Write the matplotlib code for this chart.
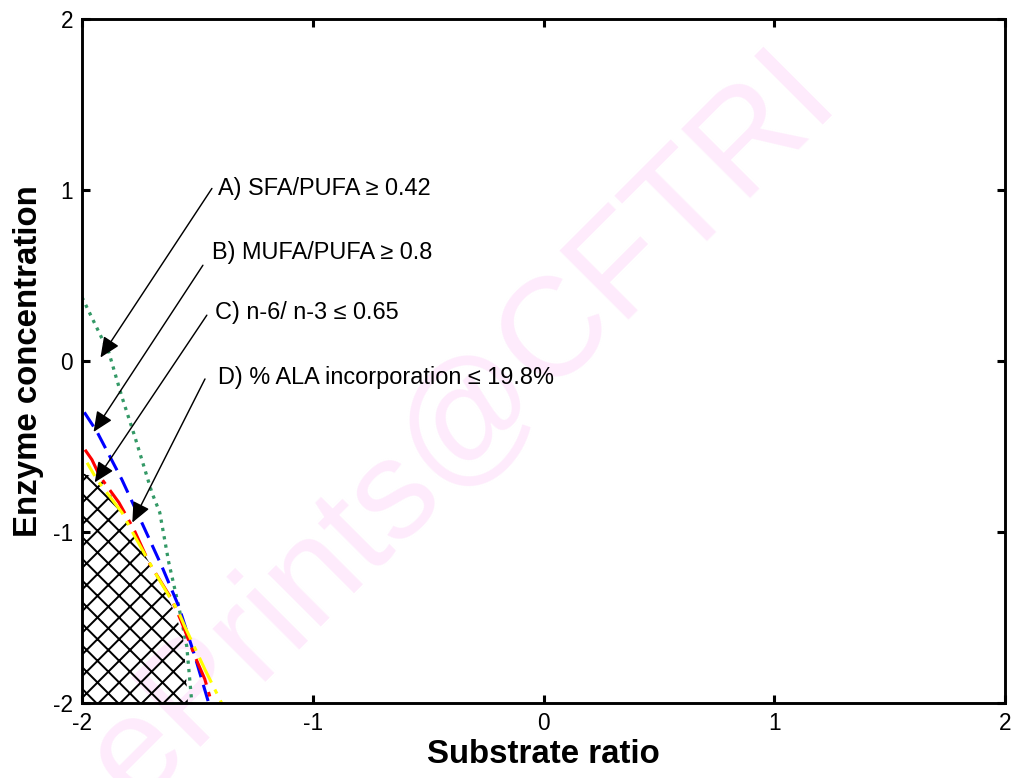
import matplotlib
matplotlib.use('Agg')
import matplotlib.pyplot as plt

plt.rcParams['font.family'] = ['Liberation Sans', 'DejaVu Sans']
plt.rcParams['hatch.linewidth'] = 1.1
plt.rcParams['axes.unicode_minus'] = False

# contour lines
a_x = [-2.0, -1.883, -1.827, -1.771, -1.697, -1.663, -1.624, -1.581, -1.546, -1.524]
a_y = [0.373, 0.047, -0.21, -0.443, -0.77, -0.886, -1.178, -1.434, -1.668, -2.0]
b_x = [-1.99, -1.935, -1.827, -1.741, -1.654, -1.581, -1.511, -1.451]
b_y = [-0.30, -0.414, -0.694, -0.945, -1.201, -1.434, -1.726, -2.0]
c_x = [-1.987, -1.957, -1.922, -1.84, -1.775, -1.71, -1.611, -1.568, -1.511, -1.468, -1.438]
c_y = [-0.519, -0.577, -0.676, -0.828, -0.985, -1.178, -1.394, -1.528, -1.726, -1.86, -2.0]
d_x = [-1.978, -1.935, -1.827, -1.771, -1.684, -1.581, -1.555, -1.468, -1.395]
d_y = [-0.595, -0.694, -0.886, -1.026, -1.236, -1.469, -1.551, -1.802, -2.0]

# feasible (hatched) region
hatch_x = [-2.0, -1.913, -1.835, -1.749, -1.662, -1.597, -1.562, -1.554, -1.541, -2.0]
hatch_y = [-0.655, -0.696, -0.871, -1.088, -1.281, -1.474, -1.614, -1.749, -2.0, -2.0]

labels = ['A) SFA/PUFA \u2265 0.42', 'B) MUFA/PUFA \u2265 0.8',
          'C) n-6/ n-3 \u2264 0.65', 'D) % ALA incorporation \u2264 19.8%']
label_x = [-1.41, -1.437, -1.424, -1.411]
label_y = [1.009, 0.636, 0.286, -0.099]
tail_x = [-1.437, -1.476, -1.459, -1.467]
tail_y = [1.009, 0.560, 0.268, -0.105]
tip_x = [-1.92, -1.95, -1.945, -1.782]
tip_y = [0.02, -0.415, -0.71, -0.945]

ticks = [-2, -1, 0, 1, 2]

fig = plt.figure(figsize=(1016/130., 778/130.), dpi=130)
ax = fig.add_axes([82/1016., 1-703/778., 923/1016., 684/778.])
ax.patch.set_alpha(0)

fig.text(0.455, 0.450, 'ePrints@CFTRI', fontsize=78, color='#feebfc',
         rotation=45, ha='center', va='center', rotation_mode='anchor', zorder=-1)

ax.fill(hatch_x, hatch_y, facecolor='none', edgecolor='black', linewidth=0, hatch='xx')

ax.plot(a_x, a_y, color='#339966', linewidth=1.8, linestyle=(0, (1, 1.6)))
ax.plot(b_x, b_y, color='#0000ff', linewidth=1.7, linestyle=(0, (5.5, 2.6)))
ax.plot(c_x, c_y, color='#ff0000', linewidth=1.7, linestyle=(0, (9, 2.5, 1.5, 2.5)))
ax.plot(d_x, d_y, color='#ffff00', linewidth=1.7, linestyle=(4, (9, 2.5, 1.5, 2.5)))

for i in range(len(labels)):
    ax.text(label_x[i], label_y[i], labels[i], fontsize=13, ha='left', va='center')
    ax.annotate('', xy=(tip_x[i], tip_y[i]), xytext=(tail_x[i], tail_y[i]),
                arrowprops=dict(arrowstyle='-|>,head_length=0.95,head_width=0.42',
                                mutation_scale=10, color='black', linewidth=0.8,
                                shrinkA=0, shrinkB=0))

ax.set_xlim(-2, 2)
ax.set_ylim(-2, 2)
ax.set_xticks(ticks)
ax.set_yticks(ticks)
ax.tick_params(direction='in', length=4.5, width=1.7, labelsize=12.5,
               top=True, right=True)
ax.tick_params(axis='x', pad=5)
ax.tick_params(axis='y', pad=5)
for s in ax.spines.values():
    s.set_linewidth(1.6)

ax.set_xlabel('Substrate ratio', fontsize=18.3, fontweight='bold', labelpad=2)
ax.set_ylabel('Enzyme concentration', fontsize=18.3, fontweight='bold', labelpad=5)

fig.savefig('out.png', dpi=130)
